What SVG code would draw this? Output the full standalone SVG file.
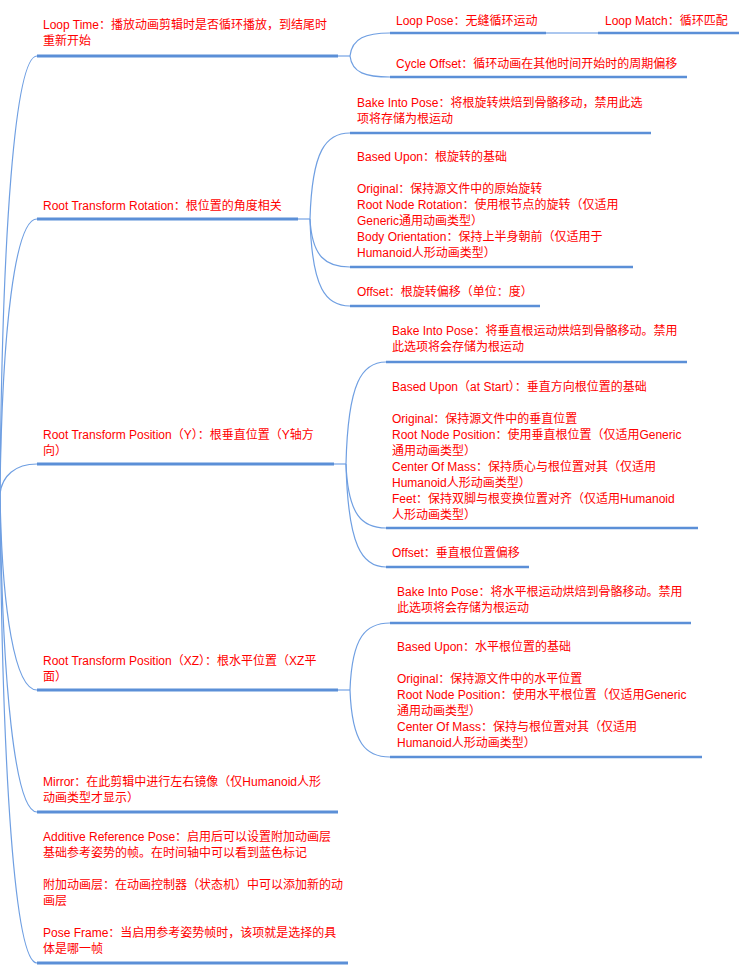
<svg xmlns="http://www.w3.org/2000/svg" width="747" height="968" viewBox="0 0 747 968">
<style>
text{font-family:"Liberation Sans","Noto Sans CJK SC",sans-serif;font-size:12px;fill:#ff0000}
.ul{stroke:#5b8fd7;stroke-width:3;fill:none}
.ul2{stroke:#5b8fd7;stroke-width:2.5;fill:none}
.cv{stroke:#6f9fe2;stroke-width:1.2;fill:none}
.st{stroke:#8fb5ea;stroke-width:1.5;fill:none}
</style>
<rect width="747" height="968" fill="#ffffff"/>
<g id="connectors">
<path class="cv" d="M0 494 C2 231 15 56 37 56"/>
<path class="cv" d="M0 494 C2 329 15 219 37 219"/>
<path class="cv" d="M0 494 C2 476 15 464 37 464"/>
<path class="cv" d="M0 494 C2 612 15 690 37 690"/>
<path class="cv" d="M0 494 C2 685 15 812 37 812"/>
<path class="cv" d="M0 494 C2 775 15 963 37 963"/>
<path class="st" d="M338 56 H350"/>
<path class="cv" d="M350 56 C352 38 366 33 390 33"/>
<path class="cv" d="M350 56 C352 73 366 77 390 77"/>
<path class="st" d="M546 33 H598"/>
<path class="st" d="M298 219 H310"/>
<path class="cv" d="M310 219 C312 150 326 133 350 133"/>
<path class="cv" d="M310 219 C312 257 326 267 350 267"/>
<path class="cv" d="M310 219 C312 289 326 306 350 306"/>
<path class="st" d="M334 464 H346"/>
<path class="cv" d="M346 464 C348 382 362 362 386 362"/>
<path class="cv" d="M346 464 C348 515 362 528 386 528"/>
<path class="cv" d="M346 464 C348 546 362 567 386 567"/>
<path class="st" d="M338 690 H350"/>
<path class="cv" d="M350 690 C352 636 366 623 390 623"/>
<path class="cv" d="M350 690 C352 744 366 757 390 757"/>
</g>
<g id="loop-time">
<text><tspan x="43" y="28.5">Loop Time：播放动画剪辑时是否循环播放，到结尾时</tspan><tspan x="43" y="44.5">重新开始</tspan></text>
<path class="ul" d="M37 56 H338"/>
</g>
<g id="loop-pose">
<text x="396" y="24.5">Loop Pose：无缝循环运动</text>
<path class="ul2" d="M390 33 H546"/>
</g>
<g id="loop-match">
<text x="605" y="24.5">Loop Match：循环匹配</text>
<path class="ul2" d="M598 33 H739"/>
</g>
<g id="cycle-offset">
<text x="396" y="67.5">Cycle Offset：循环动画在其他时间开始时的周期偏移</text>
<path class="ul2" d="M390 77 H687"/>
</g>
<g id="root-rotation">
<text x="43" y="209.5">Root Transform Rotation：根位置的角度相关</text>
<path class="ul" d="M37 219 H298"/>
</g>
<g id="rot-bake">
<text><tspan x="357" y="107">Bake Into Pose：将根旋转烘焙到骨骼移动，禁用此选</tspan><tspan x="357" y="123">项将存储为根运动</tspan></text>
<path class="ul2" d="M350 133 H651"/>
</g>
<g id="rot-based">
<text><tspan x="357" y="161">Based Upon：根旋转的基础</tspan><tspan x="357" y="193">Original：保持源文件中的原始旋转</tspan><tspan x="357" y="209">Root Node Rotation：使用根节点的旋转（仅适用</tspan><tspan x="357" y="225">Generic通用动画类型）</tspan><tspan x="357" y="241">Body Orientation：保持上半身朝前（仅适用于</tspan><tspan x="357" y="257">Humanoid人形动画类型）</tspan></text>
<path class="ul2" d="M350 267 H633"/>
</g>
<g id="rot-offset">
<text x="357" y="296">Offset：根旋转偏移（单位：度）</text>
<path class="ul2" d="M350 306 H540"/>
</g>
<g id="root-pos-y">
<text><tspan x="43" y="438.5">Root Transform Position（Y）：根垂直位置（Y轴方</tspan><tspan x="43" y="454.5">向）</tspan></text>
<path class="ul" d="M37 464 H334"/>
</g>
<g id="y-bake">
<text><tspan x="392" y="335">Bake Into Pose：将垂直根运动烘焙到骨骼移动。禁用</tspan><tspan x="392" y="351">此选项将会存储为根运动</tspan></text>
<path class="ul2" d="M386 362 H687"/>
</g>
<g id="y-based">
<text><tspan x="392" y="390.5">Based Upon（at Start）：垂直方向根位置的基础</tspan><tspan x="392" y="422.5">Original：保持源文件中的垂直位置</tspan><tspan x="392" y="438.5">Root Node Position：使用垂直根位置（仅适用Generic</tspan><tspan x="392" y="454.5">通用动画类型）</tspan><tspan x="392" y="470.5">Center Of Mass：保持质心与根位置对其（仅适用</tspan><tspan x="392" y="486.5">Humanoid人形动画类型）</tspan><tspan x="392" y="502.5">Feet：保持双脚与根变换位置对齐（仅适用Humanoid</tspan><tspan x="392" y="518.5">人形动画类型）</tspan></text>
<path class="ul2" d="M386 528 H698"/>
</g>
<g id="y-offset">
<text x="392" y="556.5">Offset：垂直根位置偏移</text>
<path class="ul2" d="M386 567 H529"/>
</g>
<g id="root-pos-xz">
<text><tspan x="43" y="664.5">Root Transform Position（XZ）：根水平位置（XZ平</tspan><tspan x="43" y="680.5">面）</tspan></text>
<path class="ul" d="M37 690 H338"/>
</g>
<g id="xz-bake">
<text><tspan x="397" y="595.5">Bake Into Pose：将水平根运动烘焙到骨骼移动。禁用</tspan><tspan x="397" y="611.5">此选项将会存储为根运动</tspan></text>
<path class="ul2" d="M390 623 H691"/>
</g>
<g id="xz-based">
<text><tspan x="397" y="651">Based Upon：水平根位置的基础</tspan><tspan x="397" y="683">Original：保持源文件中的水平位置</tspan><tspan x="397" y="699">Root Node Position：使用水平根位置（仅适用Generic</tspan><tspan x="397" y="715">通用动画类型）</tspan><tspan x="397" y="731">Center Of Mass：保持与根位置对其（仅适用</tspan><tspan x="397" y="747">Humanoid人形动画类型）</tspan></text>
<path class="ul2" d="M390 757 H702"/>
</g>
<g id="mirror">
<text><tspan x="43" y="786">Mirror：在此剪辑中进行左右镜像（仅Humanoid人形</tspan><tspan x="43" y="802">动画类型才显示）</tspan></text>
<path class="ul" d="M37 812 H338"/>
</g>
<g id="additive">
<text><tspan x="43" y="841">Additive Reference Pose：启用后可以设置附加动画层</tspan><tspan x="43" y="857">基础参考姿势的帧。在时间轴中可以看到蓝色标记</tspan><tspan x="43" y="889">附加动画层：在动画控制器（状态机）中可以添加新的动</tspan><tspan x="43" y="905">画层</tspan><tspan x="43" y="937">Pose Frame：当启用参考姿势帧时，该项就是选择的具</tspan><tspan x="43" y="953">体是哪一帧</tspan></text>
<path class="ul" d="M37 963 H348"/>
</g>
</svg>
